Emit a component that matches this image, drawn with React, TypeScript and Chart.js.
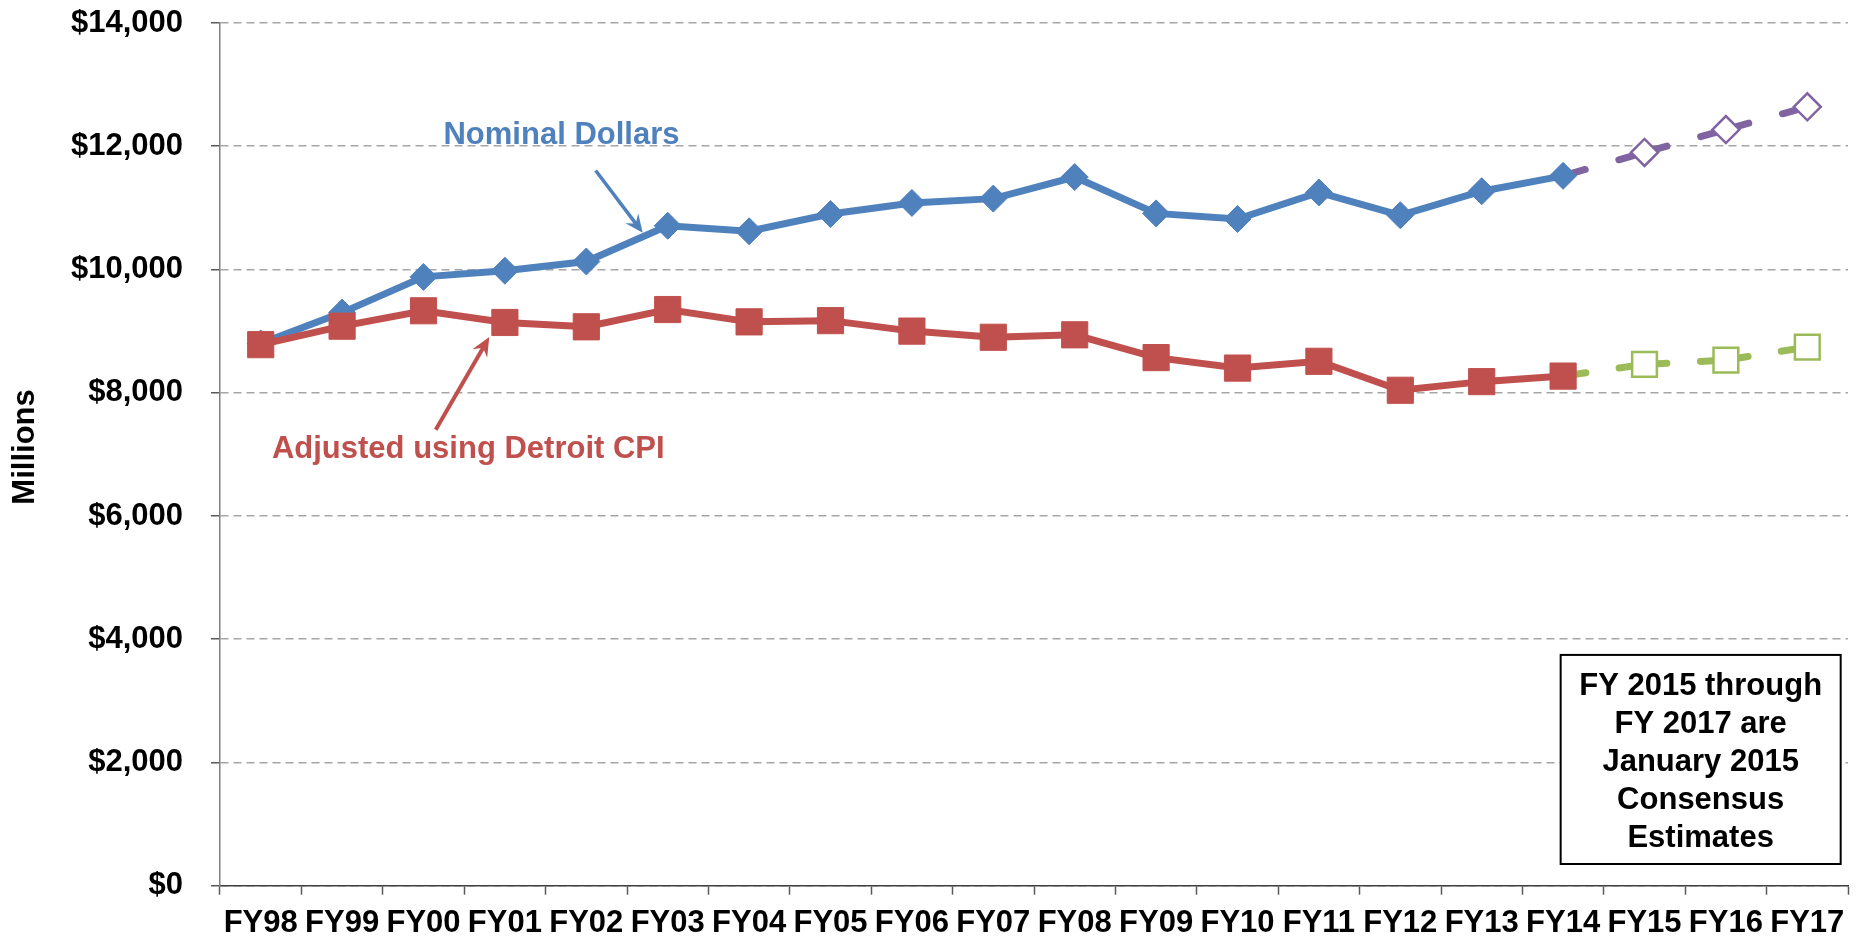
import React, { useEffect, useRef } from 'react';
import { Chart, registerables } from 'chart.js';

Chart.register(...registerables);

const categories = ['FY98', 'FY99', 'FY00', 'FY01', 'FY02', 'FY03', 'FY04', 'FY05', 'FY06', 'FY07', 'FY08', 'FY09', 'FY10', 'FY11', 'FY12', 'FY13', 'FY14', 'FY15', 'FY16', 'FY17'];

const nominalActual = [8800, 9300, 9880, 9980, 10130, 10710, 10620, 10900, 11080, 11150, 11500, 10910, 10820, 11250, 10880, 11270, 11520, null, null, null];
const adjustedActual = [8780, 9080, 9330, 9140, 9070, 9350, 9150, 9170, 9000, 8900, 8940, 8570, 8400, 8510, 8040, 8180, 8270, null, null, null];
const nominalForecast = [null, null, null, null, null, null, null, null, null, null, null, null, null, null, null, null, 11520, 11900, 12270, 12640];
const adjustedForecast = [null, null, null, null, null, null, null, null, null, null, null, null, null, null, null, null, 8270, 8460, 8530, 8740];

const yMin = 0;
const yMax = 14000;
const yStep = 2000;

const nominalLabel = 'Nominal Dollars';
const adjustedLabel = 'Adjusted using Detroit CPI';
const yTitle = 'Millions';
const noteLines = ['FY 2015 through', 'FY 2017 are', 'January 2015', 'Consensus', 'Estimates'];

const BLUE = '#4F81BD';
const RED = '#C0504D';
const PURPLE = '#8064A2';
const GREEN = '#9BBB59';
const FONT = '"Liberation Sans", Arial, sans-serif';

// annotation anchors in data space: [category index, value]
const nominalTextAt = [3.695, 12170];
const nominalArrowFrom = [4.115, 11607];
const nominalArrowTo = [4.693, 10596];
const adjustedTextAt = [2.55, 7073];
const adjustedArrowFrom = [2.15, 7398];
const adjustedArrowTo = [2.808, 8903];
const noteBox = { x0: 15.97, x1: 19.41, v0: 3745, v1: 352 };
const yTitleValue = 7120;

function drawArrow(ctx: CanvasRenderingContext2D, x1: number, y1: number, x2: number, y2: number, color: string, width: number, headLen: number, headW: number) {
  const a = Math.atan2(y2 - y1, x2 - x1);
  const c = Math.cos(a);
  const s = Math.sin(a);
  ctx.save();
  ctx.strokeStyle = color;
  ctx.fillStyle = color;
  ctx.lineWidth = width;
  ctx.lineCap = 'butt';
  ctx.beginPath();
  ctx.moveTo(x1, y1);
  ctx.lineTo(x2 - c * headLen * 0.6, y2 - s * headLen * 0.6);
  ctx.stroke();
  ctx.beginPath();
  ctx.moveTo(x2, y2);
  ctx.lineTo(x2 - c * headLen - s * headW, y2 - s * headLen + c * headW);
  ctx.lineTo(x2 - c * headLen * 0.65, y2 - s * headLen * 0.65);
  ctx.lineTo(x2 - c * headLen + s * headW, y2 - s * headLen - c * headW);
  ctx.closePath();
  ctx.fill();
  ctx.restore();
}

const annotationPlugin = {
  id: 'customAnnotations',
  afterDatasetsDraw(chart: any) {
    const { ctx } = chart;
    const xs = chart.scales.x;
    const ys = chart.scales.y;
    const px = (i: number) => xs.getPixelForValue(i);
    const py = (v: number) => ys.getPixelForValue(v);

    ctx.save();
    ctx.font = `bold 31px ${FONT}`;
    ctx.textAlign = 'center';
    ctx.textBaseline = 'middle';
    ctx.fillStyle = BLUE;
    ctx.fillText(nominalLabel, px(nominalTextAt[0]), py(nominalTextAt[1]));
    ctx.fillStyle = RED;
    ctx.fillText(adjustedLabel, px(adjustedTextAt[0]), py(adjustedTextAt[1]));
    ctx.restore();

    // y-axis title
    ctx.save();
    ctx.translate(ys.left + 34, py(yTitleValue));
    ctx.rotate(-Math.PI / 2);
    ctx.font = `bold 31px ${FONT}`;
    ctx.textAlign = 'center';
    ctx.textBaseline = 'alphabetic';
    ctx.fillStyle = '#000000';
    ctx.fillText(yTitle, 0, 0);
    ctx.restore();

    drawArrow(ctx, px(nominalArrowFrom[0]), py(nominalArrowFrom[1]), px(nominalArrowTo[0]), py(nominalArrowTo[1]), BLUE, 3.5, 18, 8);
    drawArrow(ctx, px(adjustedArrowFrom[0]), py(adjustedArrowFrom[1]), px(adjustedArrowTo[0]), py(adjustedArrowTo[1]), RED, 4, 19, 8.5);

    const bx0 = px(noteBox.x0);
    const bx1 = px(noteBox.x1);
    const by0 = py(noteBox.v0);
    const by1 = py(noteBox.v1);
    ctx.save();
    ctx.fillStyle = '#ffffff';
    ctx.fillRect(bx0, by0, bx1 - bx0, by1 - by0);
    ctx.strokeStyle = '#000000';
    ctx.lineWidth = 2;
    ctx.strokeRect(bx0, by0, bx1 - bx0, by1 - by0);
    ctx.fillStyle = '#000000';
    ctx.font = `bold 31px ${FONT}`;
    ctx.textAlign = 'center';
    ctx.textBaseline = 'middle';
    const lh = 38;
    const cx = (bx0 + bx1) / 2;
    const cy = (by0 + by1) / 2;
    noteLines.forEach((t, i) => {
      ctx.fillText(t, cx, cy + (i - (noteLines.length - 1) / 2) * lh + 3);
    });
    ctx.restore();
  },
};

export default function App() {
  const ref = useRef<HTMLCanvasElement | null>(null);

  useEffect(() => {
    if (!ref.current) return;
    const chart = new Chart(ref.current, {
      type: 'line',
      data: {
        labels: categories,
        datasets: [
          {
            label: 'Nominal',
            data: nominalActual,
            order: 1,
            borderColor: BLUE,
            backgroundColor: BLUE,
            borderWidth: 7,
            pointStyle: 'rectRot',
            pointRadius: 13.5,
            pointBorderWidth: 1,
            pointBorderColor: BLUE,
            pointBackgroundColor: BLUE,
            tension: 0,
          },
          {
            label: 'Adjusted',
            data: adjustedActual,
            order: 0,
            borderColor: RED,
            backgroundColor: RED,
            borderWidth: 7,
            pointStyle: 'rect',
            pointRadius: 18.5,
            pointBorderWidth: 1,
            pointBorderColor: RED,
            pointBackgroundColor: RED,
            tension: 0,
          },
          {
            label: 'Nominal forecast',
            data: nominalForecast,
            order: 2,
            borderColor: PURPLE,
            borderWidth: 7,
            borderDash: [50, 35],
            borderDashOffset: 27,
            borderCapStyle: 'round',
            pointStyle: 'rectRot',
            pointRadius: nominalForecast.map((v, i) => (v === null || nominalActual[i] !== null ? 0 : 13.5)),
            pointBorderWidth: 2.5,
            pointBorderColor: PURPLE,
            pointBackgroundColor: '#ffffff',
            tension: 0,
          },
          {
            label: 'Adjusted forecast',
            data: adjustedForecast,
            order: 3,
            borderColor: GREEN,
            borderWidth: 7,
            borderDash: [48, 33.6],
            borderDashOffset: 25,
            borderCapStyle: 'round',
            pointStyle: 'rect',
            pointRadius: adjustedForecast.map((v, i) => (v === null || adjustedActual[i] !== null ? 0 : 17.5)),
            pointBorderWidth: 2.5,
            pointBorderColor: GREEN,
            pointBackgroundColor: '#ffffff',
            tension: 0,
          },
        ],
      },
      options: {
        responsive: false,
        animation: false,
        layout: { autoPadding: false, padding: { top: 0, right: 0, left: 0, bottom: 0 } },
        plugins: {
          legend: { display: false },
          tooltip: { enabled: false },
        },
        scales: {
          x: {
            offset: true,
            grid: {
              display: true,
              offset: true,
              drawOnChartArea: false,
              drawTicks: true,
              tickLength: 9,
              tickColor: '#595959',
              tickWidth: 1.5,
            },
            border: { display: true, color: '#404040', width: 1.5 },
            ticks: {
              autoSkip: false,
              maxRotation: 0,
              minRotation: 0,
              padding: 10,
              color: '#000000',
              font: { family: FONT, size: 31, weight: 'bold' },
            },
            afterFit: (scale: any) => {
              scale.height = 53.3;
              scale.paddingLeft = 0;
              scale.paddingRight = 10;
            },
          },
          y: {
            min: yMin,
            max: yMax,
            grid: {
              color: '#A6A6A6',
              lineWidth: 1.5,
              drawTicks: true,
              tickLength: 9,
              tickColor: '#595959',
              tickWidth: 1.5,
              tickBorderDash: [],
            },
            border: { display: true, color: '#7F7F7F', width: 1.5, dash: [8, 5] },
            ticks: {
              stepSize: yStep,
              padding: 28,
              color: '#000000',
              font: { family: FONT, size: 31, weight: 'bold' },
              callback: (v: any) => '$' + Number(v).toLocaleString('en-US'),
            },
            title: { display: false },
            afterFit: (scale: any) => {
              scale.width = 220;
              scale.paddingTop = 23;
              scale.paddingBottom = 0;
            },
          },
        },
      },
      plugins: [annotationPlugin],
    } as any);
    return () => chart.destroy();
  }, []);

  return (
    <div style={{ position: 'fixed', left: 0, top: 0, width: 1858, height: 939, background: '#ffffff' }}>
      <canvas ref={ref} width={1858} height={939} style={{ display: 'block', width: 1858, height: 939 }} />
    </div>
  );
}
